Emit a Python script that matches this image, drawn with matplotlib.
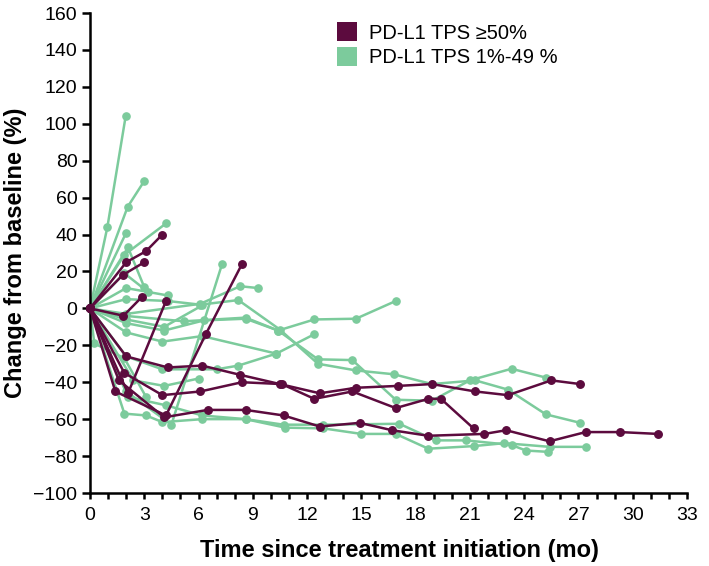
import matplotlib
matplotlib.use("Agg")
import matplotlib.pyplot as plt
from matplotlib.patches import Patch
from matplotlib.ticker import MultipleLocator

plt.rcParams['font.family'] = ['Liberation Sans', 'DejaVu Sans']

# ---- data: months since treatment initiation / % change from baseline ----
high_t = [
    [0, 2.0, 4.3, 6.2, 8.3, 10.5, 12.7, 14.7, 17.0, 18.9, 21.3, 23.1, 25.5, 27.1],
    [0, 1.9, 4.0, 6.1, 8.4, 10.6, 12.4, 14.5, 16.9, 18.7, 19.4, 21.2],
    [0, 1.6, 4.1, 6.5, 8.6, 10.7, 12.7, 14.9, 16.7, 18.7, 21.8, 23.0, 25.4, 27.4, 29.3, 31.4],
    [0, 1.4, 4.2, 6.4, 8.4],
    [0, 2.0, 3.1, 4.0],
    [0, 1.8, 3.0],
    [0, 1.85, 2.85],
    [0, 2.1, 4.2],
]
high_v = [
    [0, -26, -32, -31, -36, -41, -46, -43, -42, -41, -45, -47, -39, -41],
    [0, -35, -47, -45, -40, -41, -49, -45, -54, -49, -49, -65],
    [0, -39, -59, -55, -55, -58, -64, -62, -66, -69, -68, -66, -72, -67, -67, -68],
    [0, -45, -58, -14, 24],
    [0, 25, 31, 40],
    [0, 18, 25],
    [0, -4, 6],
    [0, -46, 4],
]

low_t = [
    [0, 0.96, 1.97],
    [0, 2.08, 3.0],
    [0, 1.9, 4.2],
    [0, 2.0],
    [0, 2.1, 3.0],
    [0, 1.9, 3.2],
    [0, 2.0, 4.3],
    [0, 2.0, 4.5, 7.3],
    [0, 2.0, 6.1, 8.3, 9.3],
    [0, 2.0, 4.0, 6.2, 10.3],
    [0, 2.0, 4.1, 6.2],
    [0, 2.0, 4.3, 6.1, 8.2, 10.5, 12.6, 14.7, 16.8, 18.9, 21.3, 23.1, 25.2, 27.1],
    [0, 2.0, 4.1, 6.3, 8.6, 10.4, 12.6, 14.5, 16.9, 18.9, 21.0, 23.3, 25.2],
    [0, 1.9, 5.2, 8.6, 10.4, 12.4, 14.7, 16.9],
    [0, 2.0, 4.0, 7.0, 8.2, 10.3, 12.4],
    [0, 2.4, 4.1, 6.0],
    [0, 2.1, 4.2, 6.2, 8.6, 10.7, 12.9, 17.1, 19.1, 20.8, 23.3, 24.1, 25.3],
    [0, 1.9, 3.1, 4.0, 6.2, 8.6, 10.8, 12.9, 15.0, 16.9, 18.7, 21.2, 22.9, 25.4, 27.4],
    [0, 0.24, 1.9, 3.1],
]
low_v = [
    [0, 44, 104],
    [0, 55, 69],
    [0, 29, 46],
    [0, 41],
    [0, 33, 11.5],
    [0, 19, 9],
    [0, 11, 7],
    [0, -45, -63, 24],
    [0, -3, 2.5, 12, 11],
    [0, -13, -18, -15, -24.5],
    [0, -6, -10, 1.6],
    [0, 5, 4, 2, 4.5, -11.5, -30, -33.6, -35.7, -41, -39, -44, -57.4, -62],
    [0, -8, -12, -6.5, -5.6, -12, -27.6, -28, -49.5, -50, -39, -32.7, -37.5],
    [0, -4, -7, -5, -12, -6, -5.6, 4],
    [0, -26, -33, -33, -31, -24.5, -14],
    [0, -39, -42, -38],
    [0, -48, -52.5, -58, -60, -63, -63, -62.5, -71.5, -71.5, -74, -77, -77.7],
    [0, -57, -58, -61.6, -60, -60, -64.6, -65, -68, -68, -76, -74.6, -73, -75, -75],
    [0, -19, -27, -48],
]

group_labels = ["PD-L1 TPS \u226550%", "PD-L1 TPS 1%-49 %"]
x_ticks = [0, 3, 6, 9, 12, 15, 18, 21, 24, 27, 30, 33]
y_ticks = [-100, -80, -60, -40, -20, 0, 20, 40, 60, 80, 100, 120, 140, 160]

MAROON = "#5C0B3E"
GREEN = "#7CCB9C"

fig = plt.figure(figsize=(7.09, 5.66), dpi=100)
ax = fig.add_axes([90 / 709, 73 / 566, 597 / 709, 480 / 566])

for t, v in zip(low_t, low_v):
    ax.plot(t, v, color=GREEN, lw=1.8, marker='o', ms=5.2, mec=GREEN, mfc=GREEN,
            clip_on=False, zorder=2)
for t, v in zip(high_t, high_v):
    ax.plot(t, v, color=MAROON, lw=1.8, marker='o', ms=5.4, mec=MAROON, mfc=MAROON,
            clip_on=False, zorder=3)

ax.set_xlim(0, 33)
ax.set_ylim(-100, 160)
ax.set_xticks(x_ticks)
ax.xaxis.set_minor_locator(MultipleLocator(1))
ax.set_yticks(y_ticks)

for s in ['top', 'right']:
    ax.spines[s].set_visible(False)
for s in ['left', 'bottom']:
    ax.spines[s].set_linewidth(1.8)
    ax.spines[s].set_color('black')

ax.tick_params(axis='y', which='major', direction='out', length=6, width=1.8,
               labelsize=14, pad=3)
ax.tick_params(axis='x', which='major', direction='out', length=4, width=1.8,
               labelsize=14, pad=6)
ax.tick_params(axis='x', which='minor', direction='out', length=4, width=1.8)

ax.set_xlabel("Time since treatment initiation (mo)", fontsize=17,
              fontweight='bold', labelpad=9)
ax.xaxis.set_label_coords((399 - 90) / 597, -0.095)
ax.set_ylabel("Change from baseline (%)", fontsize=17, fontweight='bold',
              labelpad=5)

handles = [Patch(facecolor=MAROON, edgecolor='none'),
           Patch(facecolor=GREEN, edgecolor='none')]
ax.legend(handles, group_labels, loc='upper left', frameon=False,
          bbox_to_anchor=(337 / 709, 1 - 22 / 566), bbox_transform=fig.transFigure,
          borderpad=0, borderaxespad=0, handlelength=1.0, handleheight=1.1,
          handletextpad=0.6, labelspacing=0.2, fontsize=14.5)

fig.savefig("out.png", dpi=100)
